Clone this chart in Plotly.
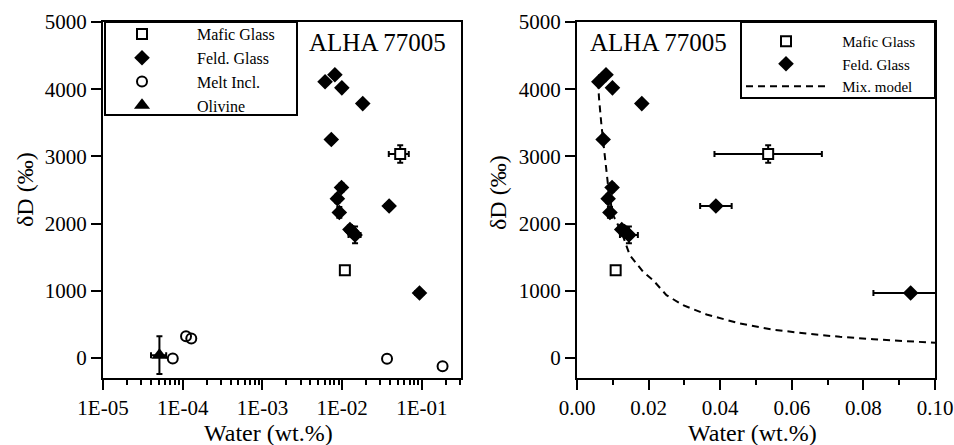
import plotly.graph_objects as go

# ---------------- data ----------------
mafic_x = [0.0534, 0.0108]
mafic_y = [3035, 1305]
mafic_xerr = [0.015, 0.0]
mafic_yerr = [130, 0]

feld_x = [0.0061, 0.0081, 0.0099, 0.0181, 0.0073, 0.0098, 0.0087, 0.0092, 0.0125, 0.0133, 0.0145, 0.0388, 0.0932]
feld_y = [4110, 4215, 4020, 3785, 3250, 2535, 2370, 2165, 1910, 1880, 1830, 2260, 965]
feld_xerr = [0.0005, 0.0006, 0.0005, 0.0005, 0.0005, 0.0006, 0.0005, 0.0006, 0.0008, 0.0010, 0.0025, 0.0044, 0.0104]
feld_yerr = [40, 40, 40, 40, 50, 60, 60, 80, 60, 70, 125, 40, 30]

melt_x = [7.5e-5, 1.1e-4, 1.28e-4, 0.0365, 0.1815]
melt_y = [-10, 322, 287, -15, -124]

oliv_x = [5.1e-5]
oliv_y = [40]
oliv_xerr = [1.1e-5]
oliv_yerr = [280]

mix_x = [0.00587, 0.00615, 0.00682, 0.00727, 0.00802, 0.00886, 0.01006, 0.01241, 0.01473,
         0.01845, 0.02125, 0.02499, 0.02963, 0.03618, 0.04549, 0.05479, 0.06413, 0.07342,
         0.08275, 0.09209, 0.1]
mix_y = [4116, 3867, 3469, 3245, 2820, 2475, 2126, 1879, 1530,
         1282, 1157, 933, 784, 646, 511, 420, 361, 313,
         277, 248, 224]

log_tickvals = [1e-5, 1e-4, 1e-3, 1e-2, 1e-1]
log_ticktext = ["1E-05", "1E-04", "1E-03", "1E-02", "1E-01"]
lin_tickvals = [0.0, 0.02, 0.04, 0.06, 0.08, 0.10]
lin_ticktext = ["0.00", "0.02", "0.04", "0.06", "0.08", "0.10"]
y_tickvals = [0, 1000, 2000, 3000, 4000, 5000]

FONT = "Liberation Serif"
BLACK = "#000000"
PAD_L = "\u00a0" * 5
PAD_R = "\u00a0" * 3

# plot area in pixels (for paper-coordinate helpers)
L, R, T, B, W, H = 103, 19, 22, 67, 954, 445
PW, PH = W - L - R, H - T - B

def px(x):
    return (x - L) / PW

def py(y):
    return (H - B - y) / PH

def eb(arr, w=3):
    return dict(type="data", array=arr, visible=True, color=BLACK, thickness=2, width=w)

sq_marker = dict(symbol="square", size=10, color="white", line=dict(width=2, color=BLACK))

fig = go.Figure()

# ---------- left (log) panel ----------
fig.add_trace(go.Scatter(x=mafic_x, y=mafic_y, mode="markers", name=PAD_L + "Mafic Glass",
                         marker=sq_marker, error_x=eb(mafic_xerr), error_y=eb(mafic_yerr),
                         xaxis="x", yaxis="y", legend="legend"))
fig.add_trace(go.Scatter(x=feld_x, y=feld_y, mode="markers", name=PAD_L + "Feld. Glass",
                         marker=dict(symbol="diamond", size=12, color=BLACK),
                         error_x=eb(feld_xerr), error_y=eb(feld_yerr),
                         xaxis="x", yaxis="y", legend="legend"))
fig.add_trace(go.Scatter(x=melt_x, y=melt_y, mode="markers", name=PAD_L + "Melt Incl.",
                         marker=dict(symbol="circle-open", size=10, color=BLACK, line=dict(width=2, color=BLACK)),
                         xaxis="x", yaxis="y", legend="legend"))
fig.add_trace(go.Scatter(x=oliv_x, y=oliv_y, mode="markers", name=PAD_L + "Olivine",
                         marker=dict(symbol="triangle-up", size=14, color=BLACK),
                         error_x=eb(oliv_xerr), error_y=eb(oliv_yerr),
                         xaxis="x", yaxis="y", legend="legend"))

# ---------- right (linear) panel ----------
fig.add_trace(go.Scatter(x=mafic_x, y=mafic_y, mode="markers", name=PAD_R + "Mafic Glass",
                         marker=sq_marker, error_x=eb(mafic_xerr), error_y=eb(mafic_yerr),
                         xaxis="x2", yaxis="y2", legend="legend2"))
fig.add_trace(go.Scatter(x=feld_x, y=feld_y, mode="markers", name=PAD_R + "Feld. Glass",
                         marker=dict(symbol="diamond", size=12, color=BLACK),
                         error_x=eb(feld_xerr), error_y=eb(feld_yerr),
                         xaxis="x2", yaxis="y2", legend="legend2"))
fig.add_trace(go.Scatter(x=mix_x, y=mix_y, mode="lines", name=PAD_R + "Mix. model",
                         line=dict(color=BLACK, width=2, dash="7px,5px"),
                         xaxis="x2", yaxis="y2", legend="legend2"))

axis_common = dict(showgrid=False, zeroline=False, showline=True, linecolor=BLACK, linewidth=2,
                   mirror=True, ticks="outside", tickcolor=BLACK, tickwidth=2, ticklen=10,
                   tickfont=dict(family=FONT, size=21, color=BLACK))

title_font = dict(family=FONT, size=24, color=BLACK)

fig.update_layout(
    width=W, height=H,
    margin=dict(l=L, r=R, t=T, b=B, autoexpand=False),
    paper_bgcolor="white", plot_bgcolor="white",
    showlegend=True,
    font=dict(family=FONT, color=BLACK),
    xaxis=dict(axis_common, type="log", domain=[0, px(461)], range=[-5, -0.51],
               tickvals=log_tickvals, ticktext=log_ticktext,
               minor=dict(ticks="outside", ticklen=5, tickwidth=1.5, tickcolor=BLACK, dtick="D1")),
    yaxis=dict(axis_common, range=[-300, 5000], tickvals=y_tickvals),
    xaxis2=dict(axis_common, domain=[px(577), 1.0], range=[0, 0.1],
                tickvals=lin_tickvals, ticktext=lin_ticktext, anchor="y2",
                minor=dict(ticks="outside", ticklen=5, tickwidth=2, tickcolor=BLACK, dtick=0.01)),
    yaxis2=dict(axis_common, range=[-300, 5000], tickvals=y_tickvals, anchor="x2"),
    legend=dict(x=px(107), y=py(17), xanchor="left", yanchor="top", bgcolor="rgba(0,0,0,0)",
                borderwidth=0, font=dict(family=FONT, size=16, color=BLACK),
                itemwidth=60, tracegroupgap=0),
    legend2=dict(x=px(741), y=py(25), xanchor="left", yanchor="top", bgcolor="rgba(0,0,0,0)",
                 borderwidth=0, font=dict(family=FONT, size=15, color=BLACK),
                 itemwidth=80, tracegroupgap=0),
    shapes=[
        dict(type="rect", xref="paper", yref="paper", x0=px(105), x1=px(297), y0=py(115), y1=py(22),
             line=dict(color=BLACK, width=2), fillcolor="rgba(0,0,0,0)", layer="above"),
        dict(type="rect", xref="paper", yref="paper", x0=px(741), x1=px(935), y0=py(98), y1=py(22),
             line=dict(color=BLACK, width=2), fillcolor="rgba(0,0,0,0)", layer="above"),
    ],
    annotations=[
        dict(text="ALHA 77005", x=px(377), y=py(43), xref="paper", yref="paper", showarrow=False,
             xanchor="center", yanchor="middle", font=dict(family=FONT, size=25, color=BLACK)),
        dict(text="ALHA 77005", x=px(658), y=py(43), xref="paper", yref="paper", showarrow=False,
             xanchor="center", yanchor="middle", font=dict(family=FONT, size=25, color=BLACK)),
        dict(text="Water (wt.%)", x=px(268), y=py(433), xref="paper", yref="paper", showarrow=False,
             xanchor="center", yanchor="middle", font=title_font),
        dict(text="Water (wt.%)", x=px(752), y=py(433), xref="paper", yref="paper", showarrow=False,
             xanchor="center", yanchor="middle", font=title_font),
        dict(text="δD (‰)", x=px(25), y=py(190), xref="paper", yref="paper", showarrow=False,
             xanchor="center", yanchor="middle", textangle=-90, font=title_font),
        dict(text="δD (‰)", x=px(498), y=py(193), xref="paper", yref="paper", showarrow=False,
             xanchor="center", yanchor="middle", textangle=-90, font=title_font),
    ],
)

fig.write_html("out.html", config={"displayModeBar": False},
               post_script="document.body.style.margin='0';document.body.style.overflow='hidden';")
